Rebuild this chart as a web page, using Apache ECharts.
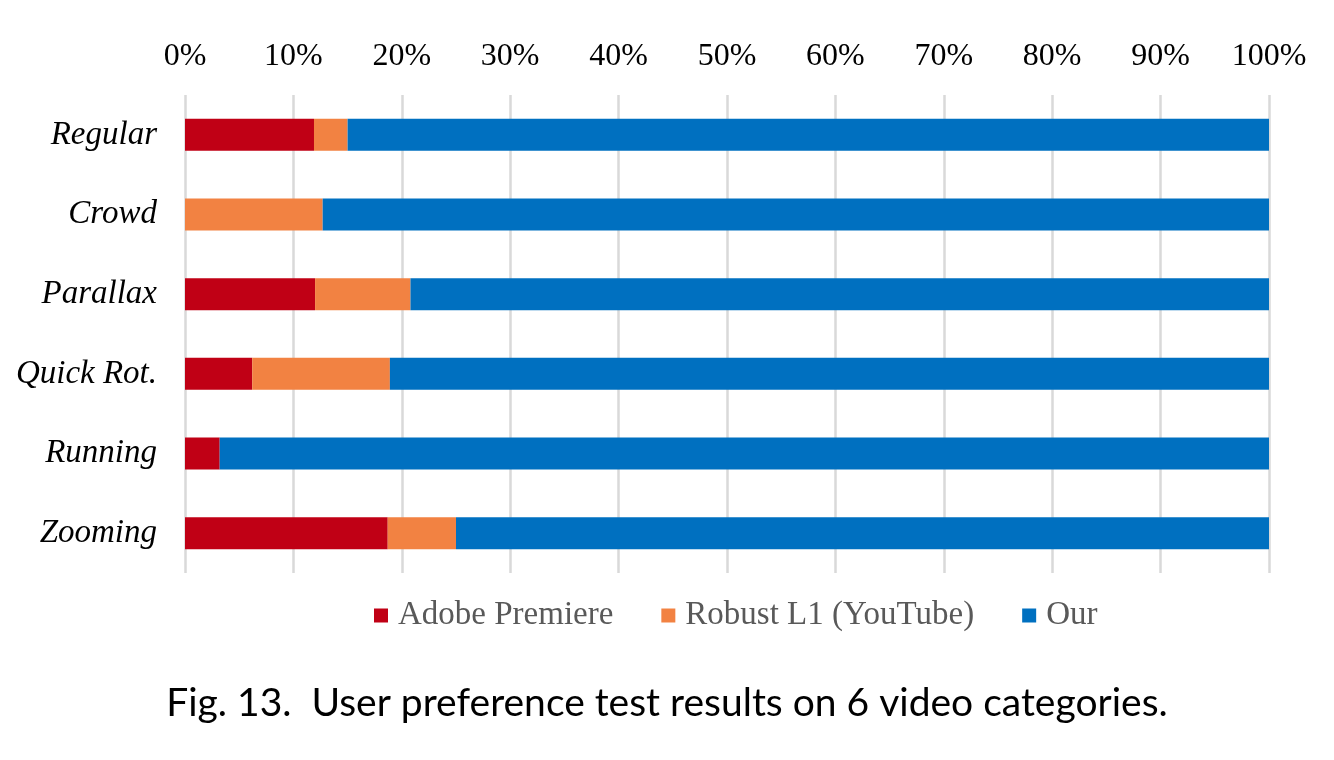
<!DOCTYPE html>
<html><head><meta charset="utf-8">
<script src="https://cdn.jsdelivr.net/npm/echarts@6/dist/echarts.min.js"></script>
<style>html,body{margin:0;padding:0;background:#fff}#c{width:1334px;height:760px}</style>
</head><body><div id="c"></div>
<script>
const categories = ['Regular','Crowd','Parallax','Quick Rot.','Running','Zooming'];
const adobe = [11.9, 0, 12.0, 6.2, 3.2, 18.7];
const robust = [3.1, 12.7, 8.8, 12.7, 0, 6.3];
const ours = [85.0, 87.3, 79.2, 81.1, 96.8, 75.0];
const seriesNames = ['Adobe Premiere','Robust L1 (YouTube)','Our'];
const caption = 'Fig. 13.  User preference test results on 6 video categories.';

const chart = echarts.init(document.getElementById('c'));
const serif = '"Liberation Serif","Times New Roman",serif';
chart.setOption({
  animation:false,
  title:{text:caption,left:'center',top:679,textStyle:{fontFamily:'Lato',fontWeight:'normal',fontSize:39,color:'#000'}},
  legend:{data:seriesNames,left:369,top:594,itemWidth:14,itemHeight:14,itemGap:48,icon:'rect',
    textStyle:{fontFamily:serif,fontSize:33,color:'#595959',padding:[0,0,0,5]}},
  grid:{left:185,right:65,top:95,height:478,containLabel:false},
  xAxis:{type:'value',position:'top',min:0,max:100,interval:10,
    axisLabel:{formatter:'{value}%',fontFamily:serif,fontSize:32,color:'#000',margin:22},
    axisLine:{show:false},axisTick:{show:false},
    splitLine:{lineStyle:{color:'#d9d9d9',width:2.5}}},
  yAxis:{type:'category',data:categories,inverse:true,
    axisLabel:{fontFamily:serif,fontStyle:'italic',fontSize:33,color:'#000',margin:28},
    axisLine:{show:false},axisTick:{show:false}},
  series:[
    {name:seriesNames[0],type:'bar',stack:'s',data:adobe,barWidth:32,itemStyle:{color:'#c00015'}},
    {name:seriesNames[1],type:'bar',stack:'s',data:robust,barWidth:32,itemStyle:{color:'#f28242'}},
    {name:seriesNames[2],type:'bar',stack:'s',data:ours,barWidth:32,itemStyle:{color:'#0070c0'}}
  ]
});
</script></body></html>
